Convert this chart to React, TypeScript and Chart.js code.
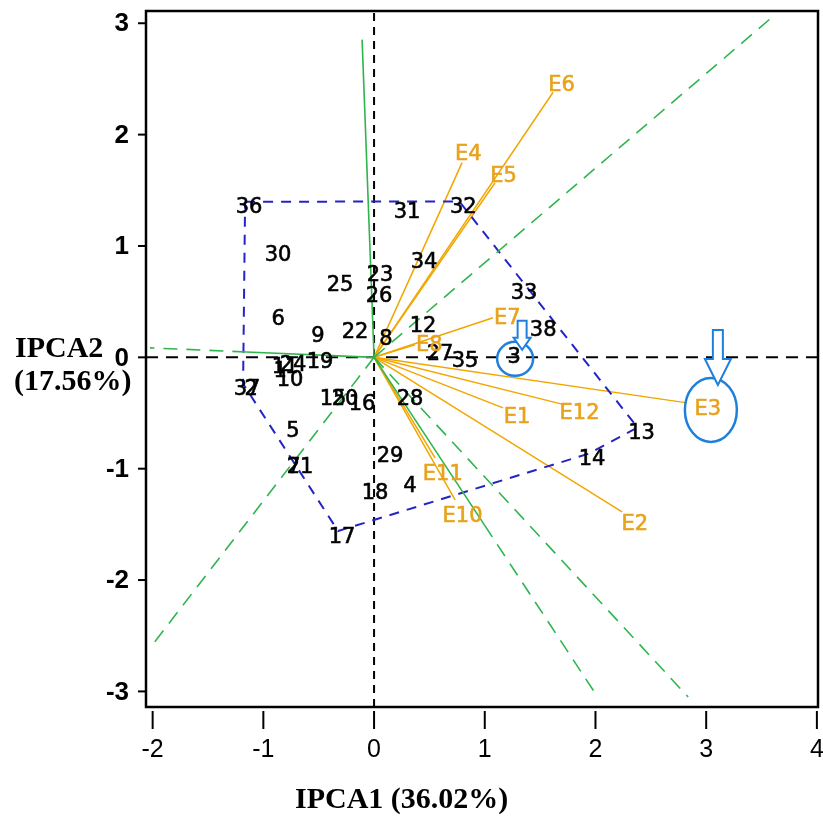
import React, { useEffect, useRef } from "react";
import { Chart, registerables } from "chart.js";

Chart.register(...registerables);

// ---- Data -----------------------------------------------------------------
const genotypeIds = ["1","2","3","4","5","6","7","8","9","10","11","12","13","14","15","16","17","18","19","20","21","22","23","24","25","26","27","28","29","30","31","32","33","34","35","36","37","38"];
const genotypeX = [-0.885,-1.147,1.229,0.289,-0.768,-0.903,-0.759,0.072,-0.542,-0.795,-0.84,0.407,2.38,1.933,-0.407,-0.145,-0.325,-0.027,-0.524,-0.298,-0.705,-0.208,0.018,-0.768,-0.343,0.009,0.56,0.289,0.108,-0.903,0.262,0.77,1.319,0.416,0.786,-1.165,-1.183,1.491];
const genotypeY = [-0.076,-0.238,0.049,-1.11,-0.616,0.391,-0.939,0.211,0.238,-0.157,-0.04,0.328,-0.63,-0.867,-0.328,-0.373,-1.56,-1.172,0.004,-0.328,-0.939,0.274,0.786,-0.022,0.696,0.597,0.076,-0.328,-0.84,0.966,1.352,1.4,0.624,0.903,0.013,1.397,-0.238,0.292];

const hullOrder = ["36","32","13","14","17","37"];

const envIds = ["E1","E2","E3","E4","E5","E6","E7","E8","E10","E11","E12"];
const envX = [1.165,2.24,2.827,0.795,1.093,1.617,1.075,0.37,0.732,0.551,1.725];
const envY = [-0.454,-1.388,-0.409,1.748,1.568,2.38,0.355,0.112,-1.28,-0.903,-0.427];

const rayX = [-0.108,-2.024,-2.024,3.622,1.996,2.837];
const rayY = [2.853,0.085,-2.61,3.077,-3.014,-3.05];
const raySolidPart = [1, 0.57, 0, 0, 0.5, 0];

const xTicks = [-2,-1,0,1,2,3,4];
const yTicks = [-3,-2,-1,0,1,2,3];
const xTitle = "IPCA1 (36.02%)";
const yTitle = ["IPCA2", "(17.56%)"];
const highlightGenotype = "3";
const highlightEnv = "E3";

const X_MIN = -2.06, X_MAX = 4.01, Y_MIN = -3.14, Y_MAX = 3.11;

// ---- Colours --------------------------------------------------------------
const GREEN = "#2fb54e";
const ORANGE = "#f2a600";
const ORANGE_TEXT = "#e8a21c";
const HULL = "#2424c4";
const MARK = "#1e80dc";

function seg(x1: number, y1: number, x2: number, y2: number) {
  return [{ x: x1, y: y1 }, { x: x2, y: y2 }];
}

function drawArrow(ctx: CanvasRenderingContext2D, cx: number, tipY: number, headTop: number, shaftTop: number, shaftHalf: number, headHalf: number) {
  ctx.beginPath();
  ctx.moveTo(cx - shaftHalf, shaftTop);
  ctx.lineTo(cx - shaftHalf, headTop);
  ctx.lineTo(cx - headHalf, headTop);
  ctx.lineTo(cx, tipY);
  ctx.lineTo(cx + headHalf, headTop);
  ctx.lineTo(cx + shaftHalf, headTop);
  ctx.lineTo(cx + shaftHalf, shaftTop);
  ctx.closePath();
  ctx.fillStyle = "#ffffff";
  ctx.fill();
  ctx.stroke();
}

const overlay = {
  id: "overlay",
  afterDatasetsDraw(chart: any) {
    const { ctx, chartArea: a, scales } = chart;
    const xs = scales.x, ys = scales.y;
    const px = (v: number) => xs.getPixelForValue(v);
    const py = (v: number) => ys.getPixelForValue(v);
    ctx.save();

    // frame
    ctx.strokeStyle = "#000";
    ctx.lineWidth = 2.5;
    ctx.strokeRect(a.left, a.top, a.right - a.left, a.bottom - a.top);

    // y ticks
    ctx.lineWidth = 2;
    ctx.font = 'bold 26px "Liberation Sans", Arial, sans-serif';
    ctx.fillStyle = "#000";
    ctx.textAlign = "right";
    ctx.textBaseline = "middle";
    yTicks.forEach((v) => {
      const yy = py(v);
      ctx.beginPath();
      ctx.moveTo(a.left - 8, yy);
      ctx.lineTo(a.left, yy);
      ctx.stroke();
      ctx.fillText(String(v), a.left - 17, yy + 1);
    });

    // x ticks
    ctx.font = '25px "Liberation Sans", Arial, sans-serif';
    ctx.textAlign = "center";
    xTicks.forEach((v) => {
      const xx = px(v);
      ctx.beginPath();
      ctx.moveTo(xx, a.bottom + 4);
      ctx.lineTo(xx, a.bottom + 22);
      ctx.stroke();
      ctx.fillText(String(v), xx, a.bottom + 43);
    });

    // titles
    ctx.font = 'bold 30px "Liberation Serif", "Times New Roman", serif';
    ctx.textAlign = "left";
    ctx.fillText(xTitle, 295, 800);
    ctx.fillText(yTitle[0], 15, 349);
    ctx.fillText(yTitle[1], 14, 382);

    // genotype labels
    ctx.font = '21px "DejaVu Sans", sans-serif';
    ctx.fillStyle = "#000";
    ctx.strokeStyle = "#000";
    ctx.lineWidth = 0.6;
    ctx.textAlign = "center";
    ctx.textBaseline = "middle";
    genotypeIds.forEach((id, i) => {
      const tx = px(genotypeX[i]) + 4, ty = py(genotypeY[i]) + 6;
      ctx.fillText(id, tx, ty);
      ctx.strokeText(id, tx, ty);
    });

    // environment labels
    const ox = px(0), oy = py(0);
    ctx.fillStyle = ORANGE_TEXT;
    ctx.strokeStyle = ORANGE_TEXT;
    const envLabelPos: Record<string, [number, number]> = {};
    envIds.forEach((id, i) => {
      const ex = px(envX[i]), ey = py(envY[i]);
      const dx = ex - ox, dy = ey - oy;
      const len = Math.hypot(dx, dy) || 1;
      const lx = ex + (dx / len) * 15 + (dx > 250 ? 6 : 0);
      const ly = ey + (dy / len) * 14 + 5;
      envLabelPos[id] = [lx, ly];
      ctx.fillText(id, lx, ly);
      ctx.strokeText(id, lx, ly);
    });

    // highlight marks
    ctx.strokeStyle = MARK;
    ctx.lineWidth = 2.5;
    const gi = genotypeIds.indexOf(highlightGenotype);
    if (gi >= 0) {
      const cx = px(genotypeX[gi]) + 5, cy = py(genotypeY[gi]) + 7;
      ctx.beginPath();
      ctx.ellipse(cx, cy, 18, 17, 0, 0, Math.PI * 2);
      ctx.stroke();
      ctx.lineWidth = 2;
      drawArrow(ctx, cx + 7, cy - 9, cy - 21, cy - 38, 4.5, 8.5);
    }
    const ep = envLabelPos[highlightEnv];
    if (ep) {
      const cx = ep[0] + 3, cy = ep[1];
      ctx.lineWidth = 2.5;
      ctx.beginPath();
      ctx.ellipse(cx, cy, 26, 32, 0, 0, Math.PI * 2);
      ctx.stroke();
      ctx.lineWidth = 2;
      drawArrow(ctx, cx + 7, cy - 25, cy - 51, cy - 80, 5, 13);
    }
    ctx.restore();
  },
};

export default function App() {
  const ref = useRef<HTMLCanvasElement | null>(null);

  useEffect(() => {
    if (!ref.current) return;
    const datasets: any[] = [];
    const base = { showLine: true, pointRadius: 0, pointHoverRadius: 0, fill: false, tension: 0 };

    // green rays from origin
    rayX.forEach((rx, i) => {
      const f = raySolidPart[i];
      if (f > 0) {
        datasets.push({ ...base, data: seg(0, 0, rx * f, rayY[i] * f), borderColor: GREEN, borderWidth: 1.6 });
      }
      if (f < 1) {
        datasets.push({ ...base, data: seg(rx * f, rayY[i] * f, rx, rayY[i]), borderColor: GREEN, borderWidth: 1.6, borderDash: [14, 9] });
      }
    });

    // polygon (hull)
    const hullPts = hullOrder.map((id) => {
      const i = genotypeIds.indexOf(id);
      return { x: genotypeX[i], y: genotypeY[i] };
    });
    hullPts.push(hullPts[0]);
    datasets.push({ ...base, data: hullPts, borderColor: HULL, borderWidth: 2, borderDash: [10, 8] });

    // environment vectors
    envIds.forEach((_, i) => {
      datasets.push({ ...base, data: seg(0, 0, envX[i], envY[i]), borderColor: ORANGE, borderWidth: 1.5 });
    });

    // axes through origin
    datasets.push({ ...base, data: seg(X_MIN, 0, X_MAX, 0), borderColor: "#000", borderWidth: 2, borderDash: [12, 8] });
    datasets.push({ ...base, data: seg(0, Y_MIN, 0, Y_MAX), borderColor: "#000", borderWidth: 2, borderDash: [8, 6] });

    const chart = new Chart(ref.current, {
      type: "scatter",
      data: { datasets },
      options: {
        animation: false,
        responsive: false,
        devicePixelRatio: 1,
        layout: { padding: { left: 146, right: 5, top: 11, bottom: 109 } },
        plugins: { legend: { display: false }, tooltip: { enabled: false } },
        scales: {
          x: { type: "linear", min: X_MIN, max: X_MAX, display: false },
          y: { type: "linear", min: Y_MIN, max: Y_MAX, display: false },
        },
        events: [],
      },
      plugins: [overlay],
    } as any);
    return () => chart.destroy();
  }, []);

  return (
    <div style={{ position: "fixed", left: 0, top: 0, width: 823, height: 816, background: "#fff" }}>
      <canvas ref={ref} width={823} height={816} style={{ display: "block", width: 823, height: 816 }} />
    </div>
  );
}
